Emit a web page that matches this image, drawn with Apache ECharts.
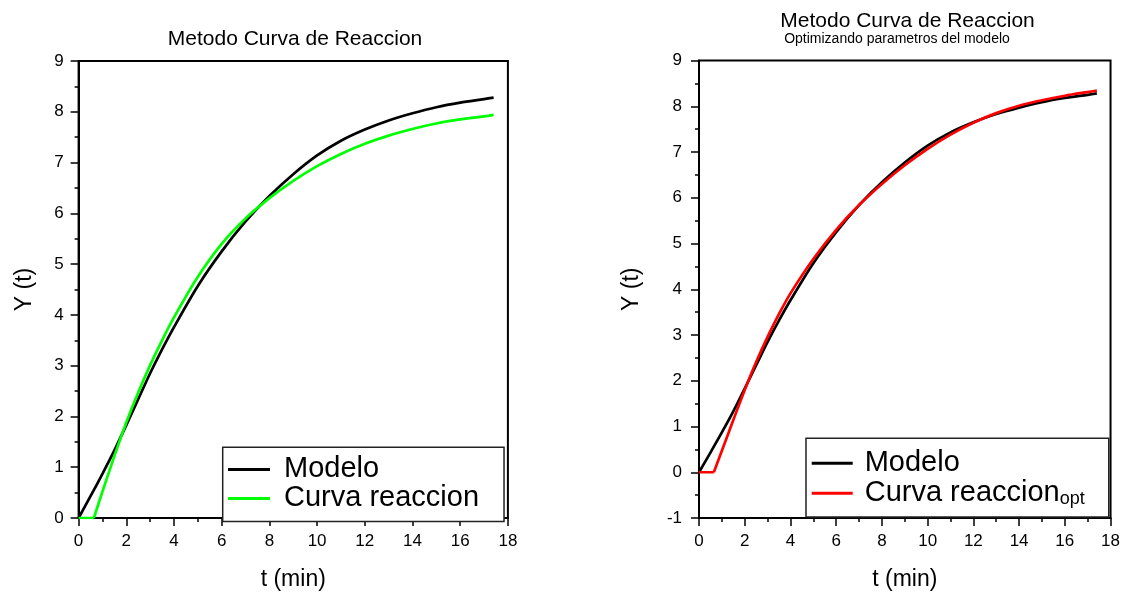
<!DOCTYPE html>
<html>
<head>
<meta charset="utf-8">
<script src="https://cdn.jsdelivr.net/npm/echarts@6.0.0/dist/echarts.min.js"></script>
<style>html,body{margin:0;padding:0;background:#fff}#c{width:1123px;height:596px}</style>
</head>
<body>
<div id="c"></div>
<script>
// Modelo (same data in both panels)
const tModelo = [0, 0.5, 1, 1.5, 2, 2.5, 3, 3.5, 4, 5, 6, 7, 8, 9, 10, 11, 12, 13, 14, 15, 16, 17, 17.4];
const yModelo = [0, 0.43, 0.87, 1.33, 1.83, 2.34, 2.85, 3.32, 3.76, 4.57, 5.25, 5.84, 6.34, 6.77, 7.14, 7.43, 7.65, 7.83, 7.97, 8.09, 8.18, 8.25, 8.28];
// Curva reaccion (left panel): dead time part and rising part
const tCurvaDead = [0, 0.64];
const yCurvaDead = [0, 0];
const tCurva = [0.64, 1, 1.5, 2, 2.5, 3, 3.5, 4, 5, 6, 7, 8, 9, 10, 11, 12, 13, 14, 15, 16, 17, 17.4];
const yCurva = [0, 0.52, 1.22, 1.88, 2.47, 3.01, 3.5, 3.95, 4.75, 5.4, 5.9, 6.3, 6.64, 6.93, 7.17, 7.37, 7.53, 7.66, 7.77, 7.85, 7.91, 7.94];
// Curva reaccion opt (right panel): dead time part and rising part
const tOptDead = [0, 0.65];
const yOptDead = [0, 0];
const tOpt = [0.65, 1, 1.5, 2, 2.5, 3, 3.5, 4, 5, 6, 7, 8, 9, 10, 11, 12, 13, 14, 15, 16, 17, 17.4];
const yOpt = [0, 0.47, 1.14, 1.8, 2.41, 2.96, 3.46, 3.91, 4.66, 5.3, 5.84, 6.3, 6.71, 7.07, 7.38, 7.64, 7.85, 8.01, 8.13, 8.23, 8.31, 8.34];

const titleLeft = 'Metodo Curva de Reaccion';
const titleRight = 'Metodo Curva de Reaccion';
const subtitleRight = 'Optimizando parametros del modelo';
const xName = 't (min)';
const yName = 'Y (t)';
const leftLegend = ['Modelo', 'Curva reaccion'];
const rightLegend = ['Modelo', 'Curva reaccion opt'];

const zip = (a, b) => a.map((v, i) => [v, b[i]]);
const FONT = 'Liberation Sans, Arial, sans-serif';

function xAxisOpt(grid) {
  return {
    type: 'value', gridIndex: grid, min: 0, max: 18, interval: 2,
    name: xName, nameLocation: 'middle', nameGap: 50,
    nameTextStyle: {fontSize: 23, fontFamily: FONT, color: '#000'},
    axisLine: {show: true, onZero: false, lineStyle: {color: '#000', width: 2}},
    axisTick: {show: true, inside: false, length: 8, lineStyle: {color: '#000', width: 1.5}},
    minorTick: {show: true, splitNumber: 2, length: 4, lineStyle: {color: '#000', width: 1.5}},
    splitLine: {show: false}, minorSplitLine: {show: false},
    axisLabel: {fontSize: 17, fontFamily: FONT, color: '#000', margin: 15}
  };
}
function yAxisOpt(grid, min, gap, lm) {
  return {
    type: 'value', gridIndex: grid, min: min, max: 9, interval: 1,
    name: yName, nameLocation: 'middle', nameGap: gap, nameRotate: 90,
    nameTextStyle: {fontSize: 23, fontFamily: FONT, color: '#000'},
    axisLine: {show: true, onZero: false, lineStyle: {color: '#000', width: 2}},
    axisTick: {show: true, inside: false, length: 8, lineStyle: {color: '#000', width: 1.5}},
    minorTick: {show: true, splitNumber: 2, length: 4, lineStyle: {color: '#000', width: 1.5}},
    splitLine: {show: false}, minorSplitLine: {show: false},
    axisLabel: {fontSize: 17, fontFamily: FONT, color: '#000', margin: lm}
  };
}

const legendBase = {
  orient: 'vertical', itemGap: 0, icon: 'rect',
  borderColor: '#222', borderWidth: 1.5, backgroundColor: '#fff',
  selectedMode: false
};

const lineSeries = (name, xi, t, y, color, smooth) => ({
  name: name, type: 'line', xAxisIndex: xi, yAxisIndex: xi, data: zip(t, y),
  symbol: 'none', showSymbol: false, smooth: smooth,
  color: color, itemStyle: {color: color}, lineStyle: {color: color, width: 2.7, join: 'miter'}
});

const chart = echarts.init(document.getElementById('c'), null, {renderer: 'canvas'});
chart.setOption({
  animation: false,
  backgroundColor: '#fff',
  grid: [
    {left: 78.6, top: 61, width: 429.3, height: 459.7, show: true, borderColor: '#000', borderWidth: 2, backgroundColor: 'transparent'},
    {left: 699, top: 60.5, width: 414, height: 461, show: true, borderColor: '#000', borderWidth: 2, backgroundColor: 'transparent'}
  ],
  xAxis: [xAxisOpt(0), xAxisOpt(1)],
  yAxis: [yAxisOpt(0, 0, 42, 15), yAxisOpt(1, -1, 56, 17)],
  legend: [
    Object.assign({}, legendBase, {
      data: leftLegend, left: 222.7, top: 447.3,
      padding: [7.6, 25, 8.6, 5.3],
      itemWidth: 42, itemHeight: 3,
      textStyle: {fontSize: 29, fontFamily: FONT, color: '#000', lineHeight: 26.7, padding: [0, 0, 0, 9]}
    }),
    Object.assign({}, legendBase, {
      data: rightLegend, left: 806, top: 438.3,
      padding: [10, 24, 8.7, 5.7],
      itemWidth: 41, itemHeight: 3,
      formatter: function (name) {
        if (name === 'Curva reaccion opt') return '{a|Curva reaccion}{s|opt}';
        return '{a|' + name + '}';
      },
      textStyle: {
        fontSize: 29, fontFamily: FONT, color: '#000', lineHeight: 30, padding: [0, 0, 0, 7],
        rich: {
          a: {fontSize: 29, fontFamily: FONT, color: '#000', lineHeight: 30},
          s: {fontSize: 18, fontFamily: FONT, color: '#000', lineHeight: 30, verticalAlign: 'bottom'}
        }
      }
    })
  ],
  graphic: [
    {type: 'text', x: 295, y: 39, style: {text: titleLeft, fontSize: 21, fontFamily: FONT, fill: '#000', align: 'center', verticalAlign: 'middle'}},
    {type: 'text', x: 907.5, y: 21, style: {text: titleRight, fontSize: 21, fontFamily: FONT, fill: '#000', align: 'center', verticalAlign: 'middle'}},
    {type: 'text', x: 897, y: 39.5, style: {text: subtitleRight, fontSize: 14, fontFamily: FONT, fill: '#000', align: 'center', verticalAlign: 'middle'}}
  ],
  series: [
    lineSeries('Modelo', 0, tModelo, yModelo, '#000000', 0.3),
    lineSeries('Curva reaccion', 0, tCurva, yCurva, '#00ff00', 0.3),
    lineSeries('Curva reaccion', 0, tCurvaDead, yCurvaDead, '#00ff00', false),
    lineSeries('Modelo', 1, tModelo, yModelo, '#000000', 0.3),
    lineSeries('Curva reaccion opt', 1, tOpt, yOpt, '#ff0000', 0.3),
    lineSeries('Curva reaccion opt', 1, tOptDead, yOptDead, '#ff0000', false)
  ]
});
</script>
</body>
</html>
